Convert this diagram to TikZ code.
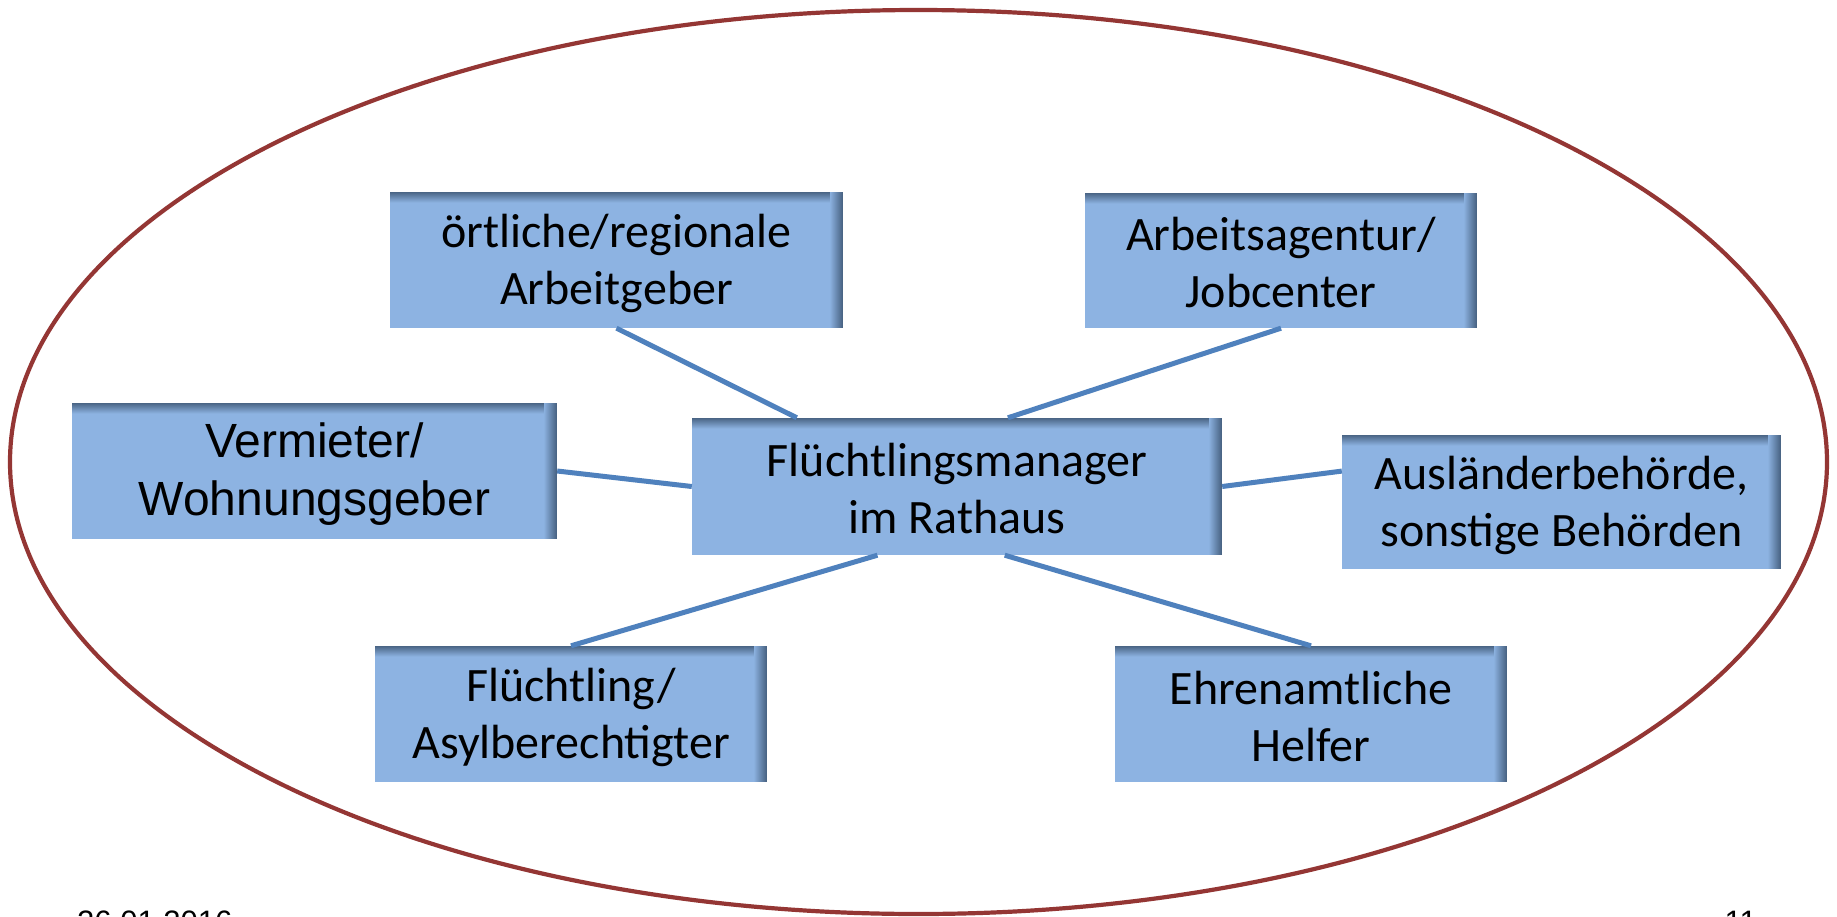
\documentclass[tikz,border=0pt]{standalone}
\usepackage{fontspec}
\setmainfont{Carlito}
\newfontfamily\arialf{Liberation Sans}
\usetikzlibrary{calc}
\definecolor{boxblue}{HTML}{8DB3E2}
\definecolor{boxshade}{HTML}{4A6585}
\definecolor{linkblue}{HTML}{4F81BD}
\definecolor{ovalred}{HTML}{943634}
\newcommand\ls{\rule[-4pt]{0pt}{45pt}}
\begin{document}
\begin{tikzpicture}[x=1pt,y=-1pt,
  entity/.style={rectangle, fill=boxblue, inner sep=0pt, align=center,
    font=\fontsize{48}{57}\selectfont,
    path picture={
      \foreach \i in {0,...,10}{
        \pgfmathsetmacro\pc{100-\i*9.5}
        \fill[boxshade!\pc!boxblue]
          ([yshift={-\i*1pt}]path picture bounding box.north west) rectangle
          ([yshift={-\i*1pt-1.3pt}]path picture bounding box.north east);
      }
      \foreach \i in {0,...,12}{
        \pgfmathsetmacro\pc{100-\i*8}
        \fill[boxshade!\pc!boxblue]
          ([xshift={-\i*1pt}]path picture bounding box.north east) rectangle
          ([xshift={-\i*1pt-1.3pt}]path picture bounding box.south east);
      }
    }},
  link/.style={draw=linkblue, line width=5pt},
  footer/.style={font=\arialf\fontsize{31}{31}\selectfont, inner sep=0pt}
]
\useasboundingbox (0,0) rectangle (1837,916);
\fill[white] (0,0) rectangle (1837,916);
\draw[ovalred, line width=4.2pt] (918.5,462) ellipse [x radius=908.5pt, y radius=452pt];

\node[entity, minimum width=453pt, minimum height=136pt] (oert) at (616.5,260) {\ls örtliche/regionale\\\ls Arbeitgeber};
\node[entity, minimum width=392pt, minimum height=135pt] (arb) at (1281,260.5) {\ls Arbeitsagentur/\\\ls Jobcenter};
\node[entity, minimum width=485pt, minimum height=136pt, font=\arialf\fontsize{48}{58}\selectfont] (verm) at (314.5,471) {\ls Vermieter/\\\ls Wohnungsgeber};
\node[entity, minimum width=530pt, minimum height=137pt] (fm) at (957,486.5) {\ls Flüchtlingsmanager\\\ls im Rathaus};
\node[entity, minimum width=439pt, minimum height=134pt] (ausl) at (1561.5,502) {\ls Ausländerbehörde,\\\ls sonstige Behörden};
\node[entity, minimum width=392pt, minimum height=136pt] (fl) at (571,714) {\ls Flüchtling/\\\ls Asylberechtigter};
\node[entity, minimum width=392pt, minimum height=136pt] (ehr) at (1311,714) {\ls Ehrenamtliche\\\ls Helfer};

\draw[link] (oert.south) -- ($(fm.north west)!0.198!(fm.north east)$);
\draw[link] (arb.south) -- ($(fm.north west)!0.596!(fm.north east)$);
\draw[link] (verm.east) -- (fm.west);
\draw[link] (fm.east) -- ($(ausl.north west)!0.27!(ausl.south west)$);
\draw[link] (fl.north) -- ($(fm.south west)!0.35!(fm.south east)$);
\draw[link] (ehr.north) -- ($(fm.south west)!0.59!(fm.south east)$);

\node[footer, anchor=base west] (date) at (77,932) {26.01.2016};
\node[footer, anchor=base east] (page) at (1757,932) {11};
\end{tikzpicture}
\end{document}
